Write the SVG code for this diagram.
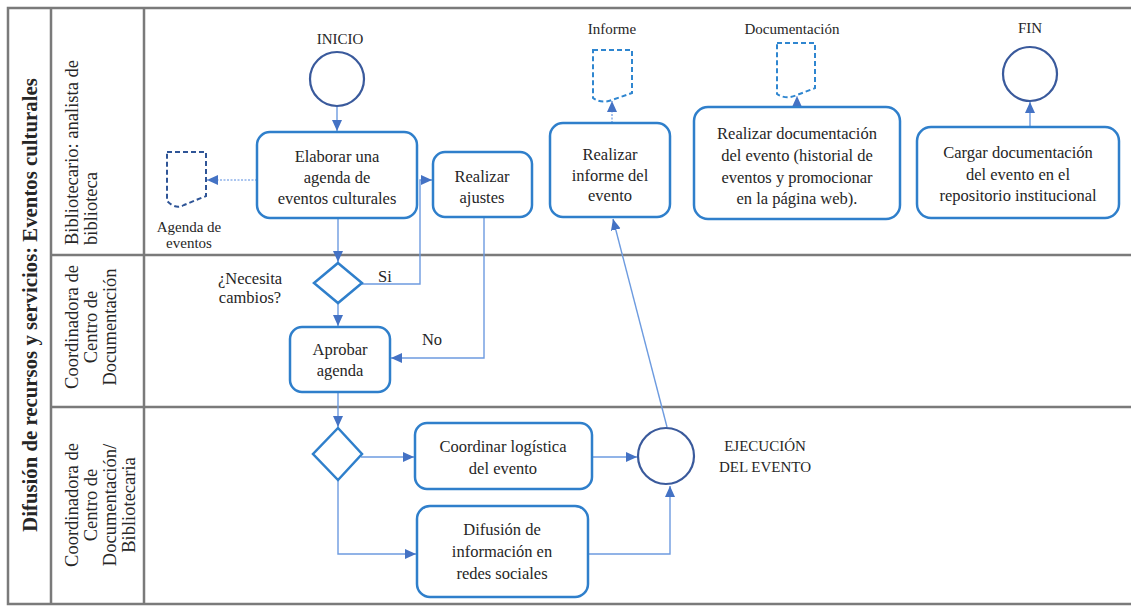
<svg xmlns="http://www.w3.org/2000/svg" width="1131" height="606" viewBox="0 0 1131 606">
<style>
.t{font-family:"Liberation Serif","Times New Roman",serif;fill:#262626;font-size:16.5px;text-anchor:middle}
.s{font-size:15px}
.lane{font-size:18.5px}
.title{font-size:20.8px;font-weight:bold}
.frame{stroke:#7a7a7a;stroke-width:2.5;fill:none}
.box{fill:#fff;stroke:#2f7fcb;stroke-width:2.5}
.ev{fill:#fff;stroke:#3a5a9c;stroke-width:2.2}
.gw{fill:#fff;stroke:#2f7fcb;stroke-width:2.5}
.doc{fill:none;stroke:#2f86d0;stroke-width:2;stroke-dasharray:5 3}
.doc2{fill:none;stroke:#2f5597;stroke-width:2;stroke-dasharray:5 3}
.c{fill:none;stroke:#6d9be0;stroke-width:1.4}
.d{fill:none;stroke:#8fb2ea;stroke-width:1.6;stroke-dasharray:2 1.5}
</style>
<defs>
<marker id="a" markerUnits="userSpaceOnUse" markerWidth="12" markerHeight="12" viewBox="0 0 12 12" refX="11" refY="6" orient="auto">
<path d="M0,1 L11,6 L0,11 Z" fill="#4472c4"/>
</marker>
</defs>
<rect width="1131" height="606" fill="#fff"/>
<g id="pool">
<path class="frame" d="M1131,8 H8 V604 H1131 M51,8 V604 M144,8 V604 M51,255 H1131 M51,407 H1131"/>
<text class="t title" transform="translate(37,305) rotate(-90)">Difusión de recursos y servicios: Eventos culturales</text>
</g>
<g id="lane1">
<text class="t lane" style="text-anchor:start" transform="translate(78,245) rotate(-90)">Bibliotecario: analista de</text>
<text class="t lane" style="text-anchor:start" transform="translate(97,245) rotate(-90)">biblioteca</text>
</g>
<g id="lane2">
<text class="t lane" transform="translate(78,327) rotate(-90)">Coordinadora de</text>
<text class="t lane" transform="translate(97,327) rotate(-90)">Centro de</text>
<text class="t lane" transform="translate(116,327) rotate(-90)">Documentación</text>
</g>
<g id="lane3">
<text class="t lane" transform="translate(78,505) rotate(-90)">Coordinadora de</text>
<text class="t lane" transform="translate(97,505) rotate(-90)">Centro de</text>
<text class="t lane" transform="translate(116,505) rotate(-90)">Documentación/</text>
<text class="t lane" transform="translate(135,505) rotate(-90)">Bibliotecaria</text>
</g>
<g id="connectors">
<path class="c" d="M337,106 V131" marker-end="url(#a)"/>
<path class="d" d="M257,180 H207" marker-end="url(#a)"/>
<path class="c" d="M338,218 V262" marker-end="url(#a)"/>
<path class="c" d="M362,284 H420 V180 H432" marker-end="url(#a)"/>
<path class="c" d="M338,303 V326" marker-end="url(#a)"/>
<path class="c" d="M484,217 V358 H391" marker-end="url(#a)"/>
<path class="c" d="M338,392 V427" marker-end="url(#a)"/>
<path class="c" d="M361,457 H414" marker-end="url(#a)"/>
<path class="c" d="M338,480 V554 H416" marker-end="url(#a)"/>
<path class="c" d="M592,457 H637" marker-end="url(#a)"/>
<path class="c" d="M588,554 H670 V486" marker-end="url(#a)"/>
<path class="c" d="M667,427 L613,219" marker-end="url(#a)"/>
<path class="d" d="M612,123 V101" marker-end="url(#a)"/>
<path class="d" d="M797,107 V96" marker-end="url(#a)"/>
<path class="c" d="M1030,127 V102" marker-end="url(#a)"/>
<text class="t" x="385" y="282">Si</text>
<text class="t" x="432" y="345">No</text>
</g>
<g id="inicio">
<circle class="ev" cx="337" cy="79" r="27"/>
<text class="t s" x="340" y="44">INICIO</text>
</g>
<g id="elaborar">
<rect class="box" x="257" y="132" width="160" height="86" rx="13"/>
<text class="t" x="337" y="162">Elaborar una</text>
<text class="t" x="337" y="183">agenda de</text>
<text class="t" x="337" y="204">eventos culturales</text>
</g>
<g id="agenda">
<path class="doc2" d="M167,152 H206 V196 L184,205 Q176,210 167,201 Z"/>
<text class="t s" x="189" y="232">Agenda de</text>
<text class="t s" x="189" y="248">eventos</text>
</g>
<g id="ajustes">
<rect class="box" x="433" y="152" width="99" height="65" rx="12"/>
<text class="t" x="482" y="182">Realizar</text>
<text class="t" x="482" y="203">ajustes</text>
</g>
<g id="necesita">
<path class="gw" d="M338,263 L362,283 L338,303 L314,283 Z"/>
<text class="t" x="250" y="284">¿Necesita</text>
<text class="t" x="250" y="303">cambios?</text>
</g>
<g id="aprobar">
<rect class="box" x="290" y="327" width="100" height="65" rx="12"/>
<text class="t" x="340" y="355">Aprobar</text>
<text class="t" x="340" y="376">agenda</text>
</g>
<g id="gateway2">
<path class="gw" d="M338,428 L362,454 L338,480 L313,454 Z"/>
</g>
<g id="coordinar">
<rect class="box" x="415" y="423" width="177" height="66" rx="12"/>
<text class="t" x="503" y="452">Coordinar logística</text>
<text class="t" x="503" y="474">del evento</text>
</g>
<g id="difusion">
<rect class="box" x="417" y="506" width="171" height="91" rx="13"/>
<text class="t" x="502" y="535">Difusión de</text>
<text class="t" x="502" y="557">información en</text>
<text class="t" x="502" y="579">redes sociales</text>
</g>
<g id="ejecucion">
<circle class="ev" cx="666" cy="456" r="28"/>
<text class="t s" x="765" y="451">EJECUCIÓN</text>
<text class="t s" x="765" y="472">DEL EVENTO</text>
</g>
<g id="informe">
<rect class="box" x="550" y="123" width="120" height="94" rx="13"/>
<text class="t" x="610" y="160">Realizar</text>
<text class="t" x="610" y="181">informe del</text>
<text class="t" x="610" y="201">evento</text>
</g>
<g id="informe-doc">
<path class="doc" d="M593,50 H632 V93 L612,100 Q601,104 593,98 Z"/>
<text class="t s" x="612" y="34">Informe</text>
</g>
<g id="documentacion">
<rect class="box" x="694" y="107" width="206" height="112" rx="14"/>
<text class="t" x="797" y="139">Realizar documentación</text>
<text class="t" x="797" y="161">del evento (historial de</text>
<text class="t" x="797" y="183">eventos y promocionar</text>
<text class="t" x="797" y="204">en la página web).</text>
</g>
<g id="documentacion-doc">
<path class="doc" d="M777,43 H815 V88 L797,95 Q786,100 777,94 Z"/>
<text class="t s" x="792" y="34">Documentación</text>
</g>
<g id="cargar">
<rect class="box" x="917" y="127" width="202" height="91" rx="14"/>
<text class="t" x="1018" y="158">Cargar documentación</text>
<text class="t" x="1018" y="180">del evento en el</text>
<text class="t" x="1018" y="201">repositorio institucional</text>
</g>
<g id="fin">
<circle class="ev" cx="1030" cy="74" r="27"/>
<text class="t s" x="1030" y="33">FIN</text>
</g>
</svg>
